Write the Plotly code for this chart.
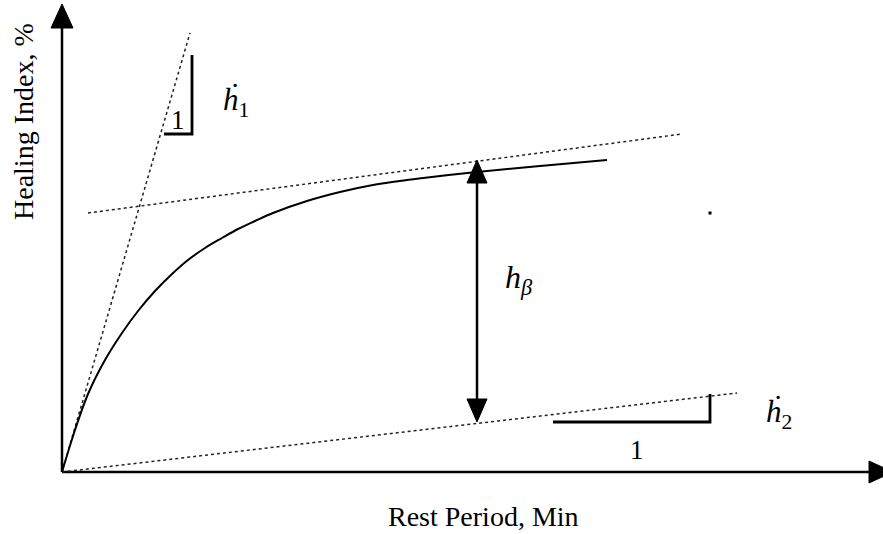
import plotly.graph_objects as go

# Healing curve: rest period (min) vs healing index (%)
rest_min = [0, 13, 26, 43, 60, 76, 93, 110, 126, 143, 160, 176, 193, 211,
            245, 278, 311, 345, 378, 415, 478, 545]
healing_pct = [0, 42, 78, 112, 139, 161, 181, 198, 212, 224, 234, 243, 251,
               259, 271, 280, 287, 292, 296, 300, 306, 312]

# Dotted construction lines (start/end points)
initial_rate_x = [0, 128]
initial_rate_y = [0, 439]
plateau_x = [26, 620]
plateau_y = [259, 338]
long_term_x = [0, 675]
long_term_y = [0, 79]

# h_beta span: between plateau and long-term line
hbeta_x = 415
hbeta_top = 312
hbeta_bottom = 50

# Slope triangles (run of 1)
tri1_x = [102, 130, 130]
tri1_y = [338, 338, 417]
tri2_x = [491, 648, 648]
tri2_y = [50, 50, 78]

# Axis extents
x_axis_end = 831
y_axis_end = 468

BLACK = "#000000"
SERIF = "Liberation Serif"

fig = go.Figure()


def head(tip_x, tip_y, dx, dy, length, half):
    """Filled triangular arrowhead with tip at (tip_x, tip_y) pointing along (dx, dy)."""
    bx, by = tip_x - dx * length, tip_y - dy * length
    px, py = -dy, dx
    xs = [tip_x, bx + px * half, bx - px * half, tip_x]
    ys = [tip_y, by + py * half, by - py * half, tip_y]
    fig.add_trace(go.Scatter(x=xs, y=ys, mode="lines", fill="toself",
                             fillcolor=BLACK, line=dict(color=BLACK, width=1),
                             hoverinfo="skip", showlegend=False))


def line(xs, ys, width=1.5, dash="solid", color=BLACK):
    fig.add_trace(go.Scatter(x=xs, y=ys, mode="lines",
                             line=dict(color=color, width=width, dash=dash),
                             hoverinfo="skip", showlegend=False))


# Axes with arrowheads
AX_LEN, AX_HALF = 24, 11
line([0, x_axis_end - AX_LEN], [0, 0], width=2.5)
line([0, 0], [0, y_axis_end - AX_LEN], width=2.5)
head(x_axis_end, 0, 1, 0, AX_LEN, AX_HALF)
head(0, y_axis_end, 0, 1, AX_LEN, AX_HALF)

# Dotted tangents
DOT = "#222222"
line(initial_rate_x, initial_rate_y, width=1.5, dash="dot", color=DOT)
line(plateau_x, plateau_y, width=1.5, dash="dot", color=DOT)
line(long_term_x, long_term_y, width=1.5, dash="dot", color=DOT)

# Healing curve
fig.add_trace(go.Scatter(x=rest_min, y=healing_pct, mode="lines",
                         line=dict(color=BLACK, width=2, shape="spline", smoothing=1.0),
                         hoverinfo="skip", showlegend=False))

# Slope triangles
line(tri1_x, tri1_y, width=2.8)
line(tri2_x, tri2_y, width=2.8)

# Double arrow for h_beta
HB_LEN, HB_HALF = 23, 10
line([hbeta_x, hbeta_x], [hbeta_bottom + HB_LEN, hbeta_top - HB_LEN], width=2.5)
head(hbeta_x, hbeta_top, 0, 1, HB_LEN, HB_HALF)
head(hbeta_x, hbeta_bottom, 0, -1, HB_LEN, HB_HALF)

# Small stray marker
fig.add_trace(go.Scatter(x=[648], y=[259], mode="markers",
                         marker=dict(color=BLACK, size=3, symbol="square"),
                         hoverinfo="skip", showlegend=False))

annots = [
    dict(x=421, y=-44, text="Rest Period, Min", size=28, angle=0),
    dict(x=-39, y=350, text="Healing Index, %", size=28, angle=-90),
    dict(x=116, y=352, text="1", size=27, angle=0),
    dict(x=575, y=22, text="1", size=27, angle=0),
    dict(x=174, y=370, text="<i>ḣ</i><sub>1</sub>", size=31, angle=0),
    dict(x=717, y=58, text="<i>ḣ</i><sub>2</sub>", size=31, angle=0),
    dict(x=457, y=193, text="<i>h</i><sub><i>β</i></sub>", size=32, angle=0),
]
for a in annots:
    fig.add_annotation(x=a["x"], y=a["y"], text=a["text"], showarrow=False,
                       textangle=a["angle"], xref="x", yref="y",
                       font=dict(family=SERIF, size=a["size"], color=BLACK))

fig.update_layout(
    width=883, height=534,
    margin=dict(l=0, r=0, t=0, b=0),
    paper_bgcolor="white", plot_bgcolor="white",
    xaxis=dict(range=[-62, 821], visible=False, fixedrange=True),
    yaxis=dict(range=[-62, 472], visible=False, fixedrange=True),
    showlegend=False,
)

fig.write_html("out.html")
